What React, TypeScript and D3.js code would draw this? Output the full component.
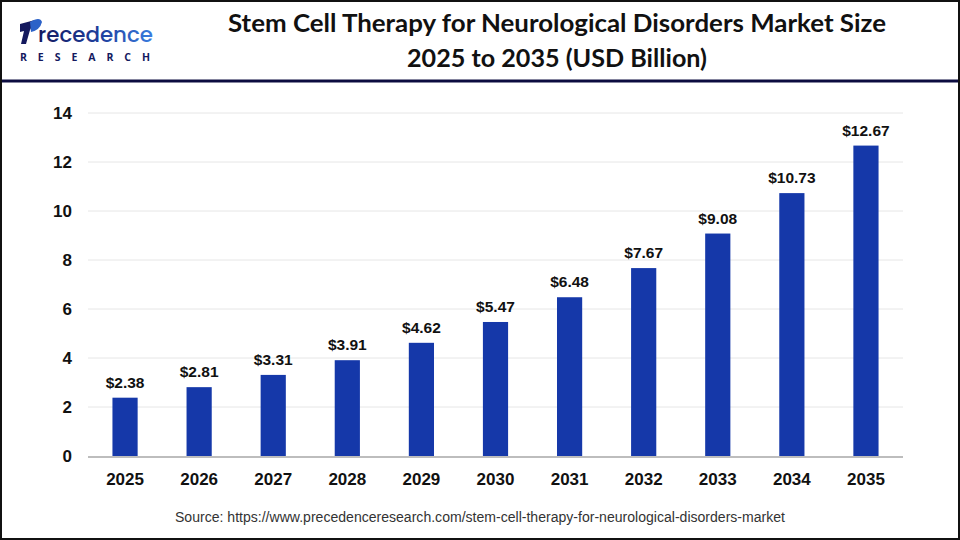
import React from 'react';
import * as d3 from 'd3';

const years = ['2025', '2026', '2027', '2028', '2029', '2030', '2031', '2032', '2033', '2034', '2035'];
const marketSize = [2.38, 2.81, 3.31, 3.91, 4.62, 5.47, 6.48, 7.67, 9.08, 10.73, 12.67];
const yTicks = [0, 2, 4, 6, 8, 10, 12, 14];

const W = 960;
const H = 540;
const plot = { left: 88, right: 903, top: 113, bottom: 456 };

const App: React.FC = () => {
  const x = d3.scaleBand<string>()
    .domain(years)
    .range([plot.left, plot.right])
    .paddingInner(0.66)
    .paddingOuter(0.33);

  const y = d3.scaleLinear()
    .domain([0, 14])
    .range([plot.bottom, plot.top]);

  return (
    <svg width={W} height={H} viewBox={`0 0 ${W} ${H}`} style={{ display: 'block', position: 'absolute', left: 0, top: 0 }}>
      <defs>
        <linearGradient id="logoGrad" x1="0" x2="1" y1="0" y2="0">
          <stop offset="0%" stopColor="#14195e" />
          <stop offset="55%" stopColor="#1f3f9e" />
          <stop offset="100%" stopColor="#3a7de0" />
        </linearGradient>
      </defs>
      <rect x={0} y={0} width={W} height={H} fill="#fff" />

      {/* logo */}
      <g>
        <path d="M20 24 L35 20 L30 30 L26 44 L21 44 L24 31 L20 32 Z" fill="#14195e" />
        <path d="M30 22 Q40 16 42 22 Q40 30 31 32 Z" fill="#2c62c8" />
        <text x={38} y={42} fontFamily="Poppins, 'Open Sans', sans-serif" fontSize={21} fontWeight={500}
          fill="url(#logoGrad)" textLength={115} lengthAdjust="spacingAndGlyphs">recedence</text>
        <text x={20} y={61} fontFamily="'Open Sans', sans-serif" fontSize={10.5} fontWeight={700}
          fill="#14195e" textLength={130} lengthAdjust="spacing">RESEARCH</text>
      </g>

      {/* title */}
      <g fontFamily="Lato, 'Open Sans', sans-serif" fontWeight={700} fontSize={24} fill="#111" textAnchor="middle">
        <text x={557} y={32} textLength={658} lengthAdjust="spacingAndGlyphs">Stem Cell Therapy for Neurological Disorders Market Size</text>
        <text x={557} y={67} textLength={300} lengthAdjust="spacingAndGlyphs">2025 to 2035 (USD Billion)</text>
      </g>
      <line x1={0} x2={W} y1={81} y2={81} stroke="#0c0c40" strokeWidth={3} />

      {/* grid */}
      {yTicks.filter(t => t > 0).map(t => (
        <line key={t} x1={plot.left} x2={plot.right} y1={y(t)} y2={y(t)} stroke="#e6e6e6" strokeWidth={1} />
      ))}

      {/* y tick labels */}
      <g fontFamily="Arial, 'Liberation Sans', sans-serif" fontWeight={700} fontSize={17} fill="#111" textAnchor="end">
        {yTicks.map(t => (
          <text key={t} x={72} y={y(t)} dy="0.36em">{t}</text>
        ))}
      </g>

      {/* bars */}
      {marketSize.map((v, i) => (
        <rect key={years[i]} x={x(years[i])} y={y(v)} width={x.bandwidth()} height={y(0) - y(v)} fill="#1538a9" />
      ))}

      {/* value labels */}
      <g fontFamily="Arial, 'Liberation Sans', sans-serif" fontWeight={700} fontSize={15.5} fill="#111" textAnchor="middle">
        {marketSize.map((v, i) => (
          <text key={years[i]} x={(x(years[i]) ?? 0) + x.bandwidth() / 2} y={y(v) - 10}>${v.toFixed(2)}</text>
        ))}
      </g>

      {/* baseline */}
      <line x1={plot.left} x2={plot.right} y1={y(0) + 1} y2={y(0) + 1} stroke="#bdbdbd" strokeWidth={2} />

      {/* x labels */}
      <g fontFamily="Arial, 'Liberation Sans', sans-serif" fontWeight={700} fontSize={17} fill="#111" textAnchor="middle">
        {years.map(yr => (
          <text key={yr} x={(x(yr) ?? 0) + x.bandwidth() / 2} y={485}>{yr}</text>
        ))}
      </g>

      <text x={480} y={522} textAnchor="middle" fontFamily="Arial, 'Liberation Sans', sans-serif" fontSize={14} fill="#333"
        textLength={610} lengthAdjust="spacingAndGlyphs">
        Source: https://www.precedenceresearch.com/stem-cell-therapy-for-neurological-disorders-market
      </text>

      <rect x={1} y={1} width={W - 2} height={H - 2} fill="none" stroke="#111" strokeWidth={2} />
    </svg>
  );
};

export default App;
